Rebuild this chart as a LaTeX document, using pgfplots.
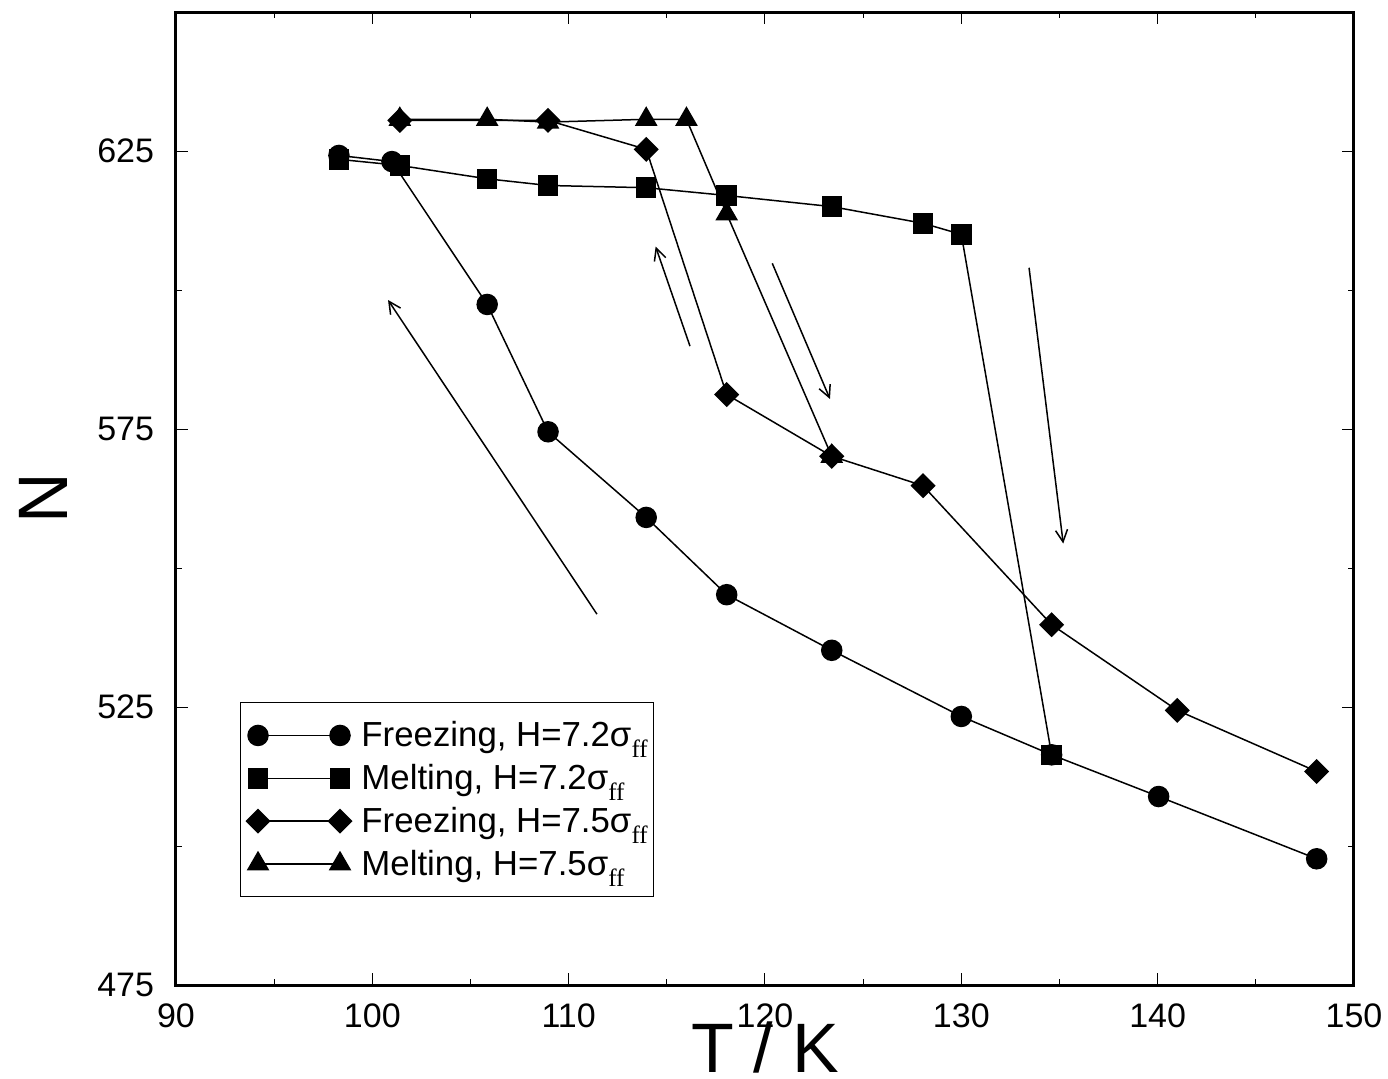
\documentclass[border=0pt]{standalone}
\usepackage{pgfplots}
\pgfplotsset{compat=1.18}
\usepackage{fontspec}
\setmainfont{Liberation Sans}
\newfontfamily\subserif{Liberation Serif}
\usetikzlibrary{arrows.meta}
\newcommand{\sff}{\raisebox{-5.5pt}{\fontsize{12.5}{12.5}\selectfont\subserif ff}}
\begin{document}
\begin{tikzpicture}
\useasboundingbox (-88pt,-46.5pt) rectangle (606pt,492.5pt);
\begin{axis}[
 at={(0pt,0pt)}, anchor=south west,
 scale only axis, width=589pt, height=486.5pt,
 xmin=90, xmax=150, ymin=475, ymax=650,
 xtick={90,100,...,150}, ytick={475,525,575,625},
 minor xtick={95,105,115,125,135,145}, minor ytick={500,550,600},
 tick align=inside,
 major tick length=6pt, minor tick length=3pt,
 every tick/.style={black, line width=0.5pt},
 axis line style={line width=1.5pt},
 /pgf/number format/assume math mode=true,
 ticklabel style={font=\fontsize{17}{17}\selectfont},
 xticklabel style={anchor=north, inner sep=0pt, yshift=-9pt},
 yticklabel style={anchor=east, inner sep=0pt, xshift=-10.8pt},
 xlabel={T / K}, ylabel={N},
 xlabel style={at={(axis description cs:0.5,0)}, anchor=base, yshift=-43.5pt, font=\fontsize{35}{35}\selectfont},
 ylabel style={at={(axis description cs:-0.0925,0.5)}, anchor=base, font=\fontsize{35}{35}\selectfont},
 legend image code/.code={\path (-2.5pt,0pt); \draw[#1] plot coordinates {(1.5pt,0pt) (42.5pt,0pt)};},
 legend cell align=left,
 legend style={at={(0.0543,0.0904)}, anchor=south west, draw=black, line width=0.6pt,
   font=\fontsize{17.4}{17.4}\selectfont, inner xsep=3pt, inner ysep=5.6pt, row sep=0pt, column sep=5pt,
   nodes={inner xsep=0pt, inner ysep=0pt, text height=16.3pt, text depth=5.1pt}},
]
\addplot[black, line width=0.75pt, mark=*, mark size=5pt, mark options={solid, fill=black}] coordinates {
(98.3,624.2) (101.0,623.1) (105.85,597.4) (108.95,574.5) (113.95,559.1) (118.05,545.2)
(123.4,535.2) (130.0,523.3) (134.6,516.4) (140.05,508.9) (148.1,497.7)};
\addlegendentry{Freezing, H=7.2σ\sff}
\addplot[black, line width=0.75pt, mark=square*, mark size=4.75pt, mark options={solid, fill=black}] coordinates {
(98.3,623.5) (101.4,622.4) (105.85,620.0) (108.95,618.8) (113.95,618.4) (118.05,617.0)
(123.4,615.0) (128.05,612.0) (130.0,610.0) (134.6,516.4)};
\addlegendentry{Melting, H=7.2σ\sff}
\addplot[black, line width=0.75pt, mark=square*, mark size=4.05pt, mark options={solid, fill=black, rotate=45}] coordinates {
(101.4,630.5) (108.95,630.5) (113.95,625.3) (118.05,581.2) (123.4,570.1) (128.05,564.8)
(134.6,539.8) (141.0,524.4) (148.1,513.4)};
\addlegendentry{Freezing, H=7.5σ\sff}
\addplot[black, line width=0.75pt, mark=triangle*, mark size=5.8pt, mark options={solid, fill=black}] coordinates {
(101.4,630.7) (105.85,630.7) (108.95,630.2) (113.95,630.7) (116.0,630.7) (118.05,613.7) (123.4,570.1)};
\addlegendentry{Melting, H=7.5σ\sff}
\draw[black, line width=0.75pt, -{Straight Barb[length=6pt,width=6pt]}] (axis cs:111.44,541.7) -- (axis cs:100.8,598.2);
\draw[black, line width=0.75pt, -{Straight Barb[length=6pt,width=6pt]}] (axis cs:116.18,589.9) -- (axis cs:114.43,607.8);
\draw[black, line width=0.75pt, -{Straight Barb[length=6pt,width=6pt]}] (axis cs:120.37,604.8) -- (axis cs:123.31,580.4);
\draw[black, line width=0.75pt, -{Straight Barb[length=6pt,width=6pt]}] (axis cs:133.45,604.0) -- (axis cs:135.19,554.4);
\end{axis}
\end{tikzpicture}
\end{document}
